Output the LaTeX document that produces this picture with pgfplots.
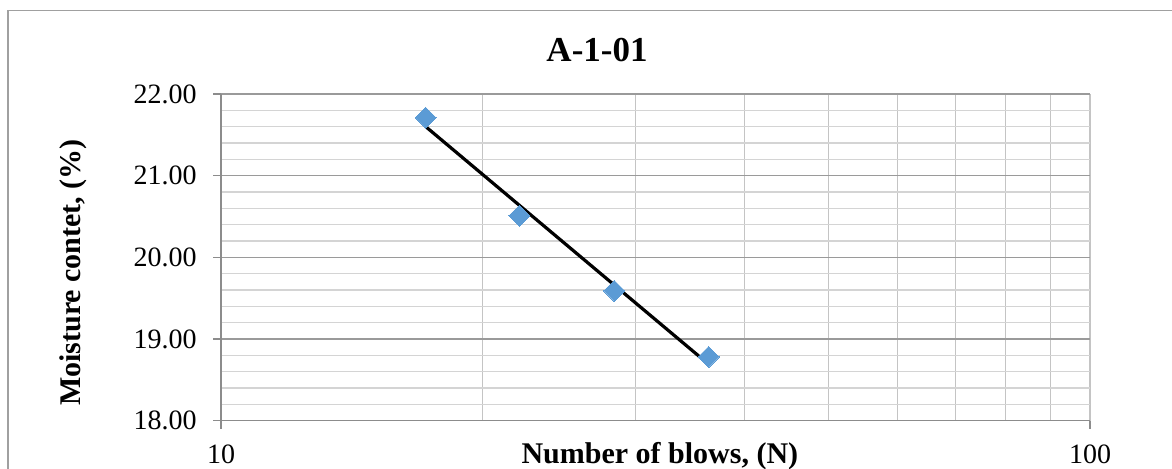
\documentclass[border=0pt]{standalone}
\usepackage{pgfplots}
\pgfplotsset{compat=1.18}
\usepackage{fontspec}
\setmainfont{Liberation Serif}
\definecolor{markblue}{HTML}{5B9BD5}
\definecolor{framegray}{HTML}{A0A0A0}
\definecolor{axisgray}{HTML}{8C8C8C}
\definecolor{majgray}{HTML}{9A9A9A}
\definecolor{mingray}{HTML}{D4D4D4}
\definecolor{vgray}{HTML}{C4C4C4}
\begin{document}
\begin{tikzpicture}[x=1pt,y=1pt]
\useasboundingbox (0,0) rectangle (586,234.5);
\draw[color=framegray, line width=0.8pt] (4,-30) -- (4,229.15) -- (640,229.15);
\begin{axis}[
  at={(110.5pt,24.15pt)}, anchor=south west,
  scale only axis, width=434.5pt, height=163.35pt,
  xmode=log, xmin=10, xmax=100, ymin=18, ymax=22,
  xtick={10,100}, xticklabels={10,100},
  minor xtick={20,30,40,50,60,70,80,90},
  ytick={18,19,20,21,22}, minor y tick num=4,
  grid=both,
  major x grid style={color=vgray, line width=0.6pt},
  minor x grid style={color=vgray, line width=0.6pt},
  major y grid style={color=majgray, line width=0.6pt},
  minor y grid style={color=mingray, line width=0.6pt},
  axis x line*=bottom, axis y line*=left,
  axis line style={-, color=axisgray, line width=0.6pt},
  tick align=outside, major tick length=4pt, minor tick length=0pt,
  tick style={color=axisgray, line width=0.6pt},
  /pgf/number format/assume math mode=true,
  yticklabel={\pgfmathprintnumber[fixed,fixed zerofill,precision=2]{\tick}},
  ticklabel style={font=\fontsize{14}{16}\selectfont},
  yticklabel style={anchor=east, inner sep=0pt, xshift=-8pt},
  xticklabel style={anchor=north, inner sep=0pt, yshift=-8pt},
  title={A-1-01},
  title style={at={(axis description cs:0.4327,1.127)}, anchor=center, inner sep=0pt, yshift=-5pt, font=\fontsize{17.5}{19}\bfseries\selectfont},
  xlabel={Number of blows, (N)},
  xlabel style={at={(axis description cs:0.505,0)}, anchor=center, inner sep=0pt, yshift=-17.6pt, font=\fontsize{15}{17}\bfseries\selectfont},
  ylabel={Moisture contet, (\%)},
  ylabel style={at={(axis description cs:-0.1703,0.4536)}, anchor=center, inner sep=0pt, font=\fontsize{15}{17}\bfseries\selectfont},
  clip=false,
]
\addplot[only marks, mark=square*, mark size=3.7pt, mark options={rotate=45, fill=markblue, draw=markblue, line width=0pt}] coordinates {
(17.2,21.71) (22.05,20.51) (28.35,19.59) (36.4,18.78)};
\addplot[black, line width=1.6pt] coordinates {(17.2,21.601) (36.4,18.691)};
\end{axis}
\end{tikzpicture}
\end{document}
